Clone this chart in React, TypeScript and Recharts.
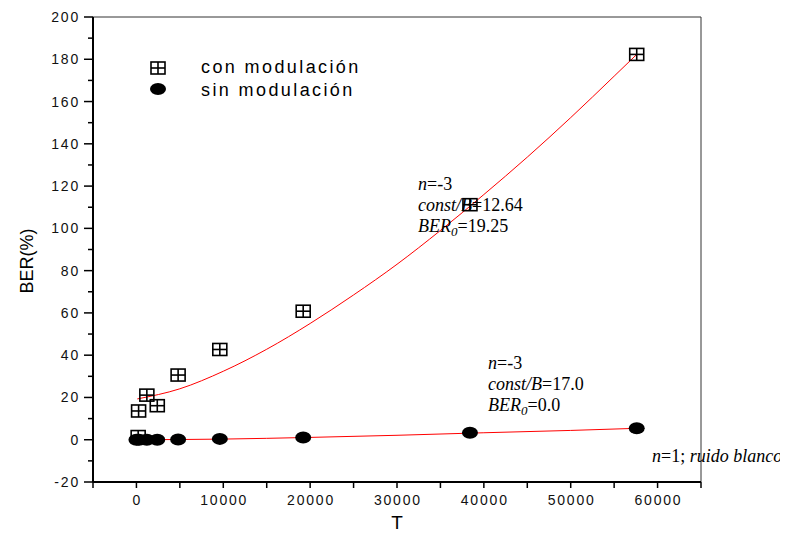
import React from "react";
import {
  ComposedChart,
  Scatter,
  Line,
  XAxis,
  YAxis,
  ReferenceLine,
} from "recharts";

// con modulación (squares)
const conMod = [
  { x: 200, y: 1.5 },
  { x: 250, y: 13.6 },
  { x: 1200, y: 21.1 },
  { x: 2400, y: 16.1 },
  { x: 4800, y: 30.6 },
  { x: 9600, y: 42.7 },
  { x: 19200, y: 60.8 },
  { x: 38400, y: 111.2 },
  { x: 57600, y: 182.3 },
];

// sin modulación (filled ellipses)
const sinMod = [
  { x: 0, y: 0 },
  { x: 300, y: 0 },
  { x: 1200, y: 0 },
  { x: 2400, y: 0 },
  { x: 4800, y: 0.1 },
  { x: 9600, y: 0.4 },
  { x: 19200, y: 1.1 },
  { x: 38400, y: 3.3 },
  { x: 57600, y: 5.4 },
];

// red fit curves
const fitCon = [
  { x: 100, y: 19.3 },
  { x: 5000, y: 24.1 },
  { x: 10000, y: 32.4 },
  { x: 15000, y: 42.8 },
  { x: 20000, y: 55 },
  { x: 25000, y: 68.5 },
  { x: 30000, y: 83 },
  { x: 35000, y: 99 },
  { x: 40000, y: 116 },
  { x: 45000, y: 133.7 },
  { x: 50000, y: 152.4 },
  { x: 55000, y: 172 },
  { x: 57600, y: 182.3 },
];

const fitSin = [
  { x: 100, y: 0 },
  { x: 10000, y: 0.3 },
  { x: 20000, y: 1.1 },
  { x: 30000, y: 2.1 },
  { x: 40000, y: 3.3 },
  { x: 50000, y: 4.4 },
  { x: 57600, y: 5.4 },
];

const xTicks = [-5000, 0, 5000, 10000, 15000, 20000, 25000, 30000, 35000, 40000, 45000, 50000, 55000, 60000, 65000];
const xLabels = [0, 10000, 20000, 30000, 40000, 50000, 60000];
const yTicks = [-20, -10, 0, 10, 20, 30, 40, 50, 60, 70, 80, 90, 100, 110, 120, 130, 140, 150, 160, 170, 180, 190, 200];
const yLabels = [-20, 0, 20, 40, 60, 80, 100, 120, 140, 160, 180, 200];

const sans = "'Liberation Sans', Arial, sans-serif";
const serif = "'Liberation Serif', 'Times New Roman', serif";

const XTick = (props: any) => {
  const { x, y, payload } = props;
  const v = payload.value;
  return (
    <g>
      <line x1={x} x2={x} y1={y} y2={y + 6} stroke="#000" strokeWidth={1.5} />
      {xLabels.includes(v) && (
        <text x={x + 0.9} y={y + 23} textAnchor="middle" fontFamily={sans} fontSize={14} letterSpacing={1.8} fill="#111">
          {v}
        </text>
      )}
    </g>
  );
};

const YTick = (props: any) => {
  const { x, y, payload } = props;
  const v = payload.value;
  const major = yLabels.includes(v);
  return (
    <g>
      <line x1={x - (major ? 9 : 5)} x2={x} y1={y} y2={y} stroke="#000" strokeWidth={1.5} />
      {major && (
        <text x={x - 13} y={y + 5} textAnchor="end" fontFamily={sans} fontSize={14} letterSpacing={1.8} fill="#111">
          {v}
        </text>
      )}
    </g>
  );
};

const SquareMark = (props: any) => {
  const { cx, cy } = props;
  return (
    <g stroke="#000" strokeWidth={1.6} fill="none">
      <rect x={cx - 7} y={cy - 6} width={14} height={12} />
      <line x1={cx} x2={cx} y1={cy - 6} y2={cy + 6} />
      <line x1={cx - 7} x2={cx + 7} y1={cy} y2={cy} />
    </g>
  );
};

const EllipseMark = (props: any) => {
  const { cx, cy } = props;
  return <ellipse cx={cx} cy={cy} rx={8} ry={6} fill="#000" />;
};

export default function App() {
  return (
    <div style={{ position: "relative", width: 780, height: 527 }}>
      <ComposedChart width={780} height={527} margin={{ top: 9, right: 87, left: 0, bottom: 0 }}>
        <XAxis
          type="number"
          dataKey="x"
          domain={[-5000, 65000]}
          ticks={xTicks}
          interval={0}
          allowDataOverflow
          height={53}
          tickSize={0}
          tickMargin={0}
          tickLine={false}
          tick={<XTick />}
          axisLine={{ stroke: "#000", strokeWidth: 2 }}
        />
        <YAxis
          type="number"
          dataKey="y"
          domain={[-20, 200]}
          ticks={yTicks}
          interval={0}
          allowDataOverflow
          width={85}
          tickSize={0}
          tickMargin={0}
          tickLine={false}
          tick={<YTick />}
          axisLine={{ stroke: "#000", strokeWidth: 2 }}
        />
        <ReferenceLine y={200} stroke="#333" strokeWidth={1} />
        <ReferenceLine x={65000} stroke="#333" strokeWidth={1} />
        <Scatter data={conMod} dataKey="y" shape={<SquareMark />} isAnimationActive={false} />
        <Scatter data={sinMod} dataKey="y" shape={<EllipseMark />} isAnimationActive={false} />
        <Line data={fitCon} dataKey="y" type="monotone" stroke="#ff0000" strokeWidth={1} dot={false} activeDot={false} isAnimationActive={false} />
        <Line data={fitSin} dataKey="y" type="monotone" stroke="#ff0000" strokeWidth={1} dot={false} activeDot={false} isAnimationActive={false} />
      </ComposedChart>
      <svg width={780} height={527} style={{ position: "absolute", left: 0, top: 0, pointerEvents: "none" }}>
        {/* axis titles */}
        <text x={389} y={521} textAnchor="middle" fontFamily={sans} fontSize={19} fill="#000">T</text>
        <text x={25} y={253} textAnchor="middle" fontFamily={sans} fontSize={18} fill="#000" transform="rotate(-90 25 253)">BER(%)</text>

        {/* legend */}
        <SquareMark cx={150} cy={60} />
        <EllipseMark cx={150} cy={81} />
        <text x={193} y={65} fontFamily={sans} fontSize={18} letterSpacing={2.4} fill="#000">con modulación</text>
        <text x={193} y={88} fontFamily={sans} fontSize={18} letterSpacing={2.4} fill="#000">sin modulación</text>

        {/* fit annotations */}
        <g fontFamily={serif} fontSize={18} fill="#000">
          <text x={410} y={182}><tspan fontStyle="italic">n</tspan>=-3</text>
          <text x={410} y={203}><tspan fontStyle="italic">const/B</tspan>=12.64</text>
          <text x={410} y={224}>
            <tspan fontStyle="italic">BER</tspan>
            <tspan fontStyle="italic" fontSize={13} dy={4}>0</tspan>
            <tspan dy={-4}>=19.25</tspan>
          </text>

          <text x={480} y={361}><tspan fontStyle="italic">n</tspan>=-3</text>
          <text x={480} y={382}><tspan fontStyle="italic">const/B</tspan>=17.0</text>
          <text x={480} y={403}>
            <tspan fontStyle="italic">BER</tspan>
            <tspan fontStyle="italic" fontSize={13} dy={4}>0</tspan>
            <tspan dy={-4}>=0.0</tspan>
          </text>

          <text x={644} y={454}>
            <tspan fontStyle="italic">n</tspan>=1; <tspan fontStyle="italic">ruido blanco</tspan>
          </text>
        </g>
      </svg>
    </div>
  );
}
